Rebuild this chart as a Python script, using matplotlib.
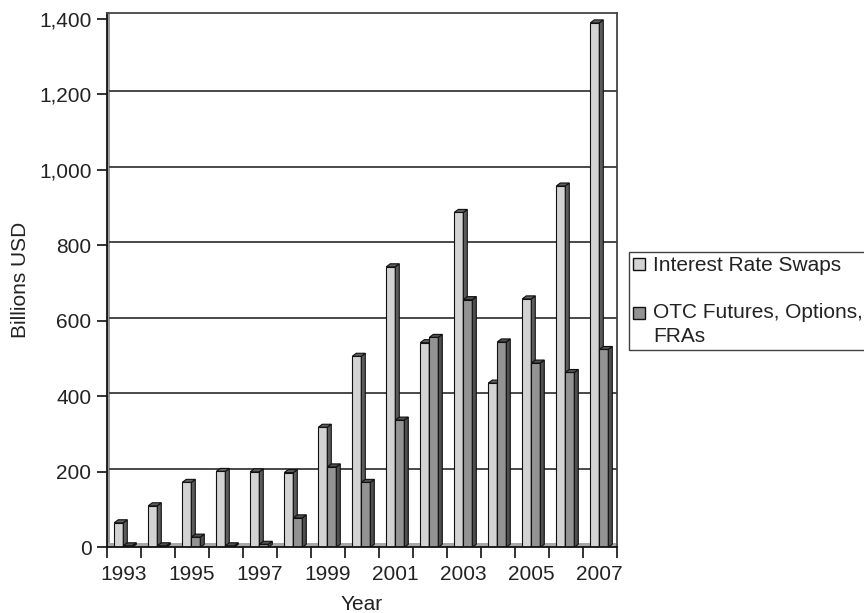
import matplotlib
matplotlib.use("Agg")
import matplotlib.pyplot as plt
from matplotlib.patches import Rectangle, Patch
from matplotlib.lines import Line2D
from matplotlib.transforms import offset_copy
from matplotlib.ticker import FuncFormatter, FixedLocator
from matplotlib.legend_handler import HandlerPatch

years = list(range(1993, 2008))
swaps = [65, 110, 172, 201, 200, 198, 318, 506, 743, 542, 887, 435, 658, 957, 1389]
otc = [4, 4, 27, 4, 8, 78, 213, 172, 337, 556, 656, 544, 488, 463, 524]
series_names = ["Interest Rate Swaps", "OTC Futures, Options,\nFRAs"]
yticks = [0, 200, 400, 600, 800, 1000, 1200, 1400]

plt.rcParams['font.family'] = ['Liberation Sans', 'DejaVu Sans']
FS = 15
TXT = '#222222'

fig = plt.figure(figsize=(8.64, 6.13), dpi=100)
ax = fig.add_axes([106.7/864, (613-547.3)/613, 510/864, 534.6/613])
ax.set_xlim(-0.5, len(years) - 0.5)
ax.set_ylim(0, 1416)

# 3D geometry in data units
px_x = 34.0  # pixels per category
px_y = 534.6 / 1416
w = 9 / px_x
dx = 4 / px_x
dy = 3 / px_y

front_c = ['#d3d3d3', '#939393']
side_c = ['#5c5c5c', '#4e4e4e']
top_c = ['#606060', '#505050']
offsets = [-0.277, -0.012]

# walls
ax.add_patch(Rectangle((0, 0), 3/510, 1, transform=ax.transAxes,
                       facecolor='#9a9a9a', edgecolor='none', zorder=1))
ax.add_patch(Rectangle((0, 0), 1, 4.6/534.6, transform=ax.transAxes,
                       facecolor='#a8a8a8', edgecolor='none', zorder=1))

# gridlines on back wall
gtrans = offset_copy(ax.get_yaxis_transform(), fig=fig, x=0, y=3, units='dots')
for v in yticks[1:-1]:
    ax.add_line(Line2D([3/510, 1], [v, v], transform=gtrans, color='#3a3a3a',
                       lw=1.3, zorder=1.5))

z = 3
for i, yr in enumerate(years):
    for s, vals in enumerate([swaps, otc]):
        h = vals[i]
        x0 = i + offsets[s]
        ax.bar([x0], [h], width=w, align='edge', color=front_c[s],
               edgecolor='#111111', linewidth=0.8, zorder=z)
        ax.fill([x0 + w, x0 + w + dx, x0 + w + dx, x0 + w],
                [0, dy, h + dy, h], facecolor=side_c[s], edgecolor='#111111',
                linewidth=0.8, zorder=z)
        ax.fill([x0, x0 + dx, x0 + w + dx, x0 + w],
                [h, h + dy, h + dy, h], facecolor=top_c[s], edgecolor='#111111',
                linewidth=0.8, zorder=z)
        z += 0.01

# axes styling
for sp in ['left', 'bottom']:
    ax.spines[sp].set_color('#111111')
    ax.spines[sp].set_linewidth(1.3)
for sp in ['top', 'right']:
    ax.spines[sp].set_color('#444444')
    ax.spines[sp].set_linewidth(1.3)
for sp in ax.spines.values():
    sp.set_zorder(10)

ax.yaxis.set_major_locator(FixedLocator(yticks))
ax.yaxis.set_major_formatter(FuncFormatter(lambda v, p: f"{int(v):,}"))
ax.tick_params(axis='y', direction='out', length=7, width=1.2, color='#111111',
               labelsize=FS, labelcolor=TXT, pad=4)

ax.xaxis.set_major_locator(FixedLocator([i - 0.5 for i in range(len(years) + 1)]))
ax.xaxis.set_major_formatter(FuncFormatter(lambda v, p: ""))
ax.xaxis.set_minor_locator(FixedLocator(list(range(0, len(years), 2))))
ax.set_xticklabels([str(years[i]) for i in range(0, len(years), 2)], minor=True)
ax.tick_params(axis='x', which='major', direction='out', length=8, width=1.2,
               color='#111111')
ax.tick_params(axis='x', which='minor', length=0, labelsize=FS, labelcolor=TXT,
               pad=13)

ax.set_xlabel("Year", fontsize=FS, color=TXT)
ax.xaxis.set_label_coords(0.5, -0.089)
ax.set_ylabel("Billions USD", fontsize=FS, color=TXT)
ax.yaxis.set_label_coords(-0.15, 0.5)


class HandlerShift(HandlerPatch):
    def __init__(self, shift=0.0, **kw):
        super().__init__(**kw)
        self.shift = shift

    def create_artists(self, legend, orig_handle, xdescent, ydescent, width,
                       height, fontsize, trans):
        return super().create_artists(legend, orig_handle, xdescent,
                                      ydescent - self.shift, width, height,
                                      fontsize, trans)


handles = [Patch(facecolor=front_c[0], edgecolor='#111111', linewidth=1.0),
           Patch(facecolor=front_c[1], edgecolor='#111111', linewidth=1.0)]
leg = fig.legend(handles, series_names, loc='upper left',
                 bbox_to_anchor=(629/864, 1 - 252/613), fontsize=FS,
                 frameon=True, fancybox=False, handlelength=0.55,
                 handleheight=0.55, handletextpad=0.4, labelspacing=1.35,
                 borderpad=0.2, borderaxespad=0,
                 handler_map={handles[1]: HandlerShift(shift=8.5)})
leg.get_frame().set_edgecolor('#111111')
leg.get_frame().set_linewidth(1.0)
for t in leg.get_texts():
    t.set_color(TXT)
    t.set_linespacing(1.3)

fig.savefig("out.png", dpi=100)
